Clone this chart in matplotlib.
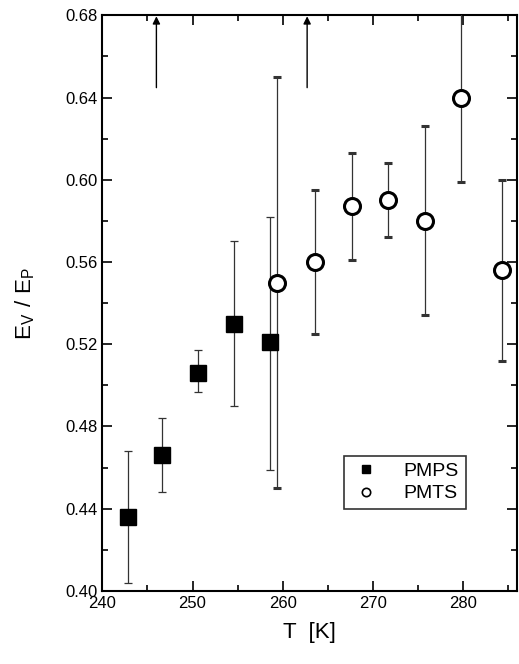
import numpy as np
import matplotlib
matplotlib.use('Agg')
import matplotlib.pyplot as plt
from matplotlib.ticker import MultipleLocator
from matplotlib.lines import Line2D

plt.rcParams['font.family'] = ['Liberation Sans', 'DejaVu Sans']

# PMPS (filled squares)
pmps_T = [242.9, 246.6, 250.6, 254.6, 258.6]
pmps_r = [0.436, 0.466, 0.506, 0.530, 0.521]
pmps_lo = [0.404, 0.448, 0.497, 0.490, 0.459]
pmps_hi = [0.468, 0.484, 0.517, 0.570, 0.582]

# PMTS (open circles)
pmts_T = [259.4, 263.6, 267.7, 271.7, 275.8, 279.7, 284.3]
pmts_r = [0.550, 0.560, 0.587, 0.590, 0.580, 0.640, 0.556]
pmts_lo = [0.450, 0.525, 0.561, 0.572, 0.534, 0.599, 0.512]
pmts_hi = [0.650, 0.595, 0.613, 0.608, 0.626, 0.700, 0.600]

# arrows at top
arrow_T = [246.0, 262.7]

fig = plt.figure(figsize=(5.19, 6.64), dpi=100)
ax = fig.add_axes([0.197, 0.110, 0.800, 0.867])

r = np.array(pmps_r)
ax.errorbar(pmps_T, pmps_r, yerr=[r - np.array(pmps_lo), np.array(pmps_hi) - r],
            fmt='s', color='black', ms=11.5, ecolor='#333333', elinewidth=0.9,
            capsize=3, capthick=0.9, zorder=3)
r = np.array(pmts_r)
ax.errorbar(pmts_T, pmts_r, yerr=[r - np.array(pmts_lo), np.array(pmts_hi) - r],
            fmt='o', color='black', mfc='white', mec='black', mew=2.2, ms=11.5,
            ecolor='#333333', elinewidth=0.9, capsize=3, capthick=0.9, zorder=3)

for t in arrow_T:
    ax.annotate('', xy=(t, 0.6795), xytext=(t, 0.6448),
                arrowprops=dict(arrowstyle='-|>', color='black', lw=1.0,
                                mutation_scale=11, shrinkA=0, shrinkB=0))

ax.set_xlim(240, 286)
ax.set_ylim(0.40, 0.68)
ax.xaxis.set_major_locator(MultipleLocator(10))
ax.xaxis.set_minor_locator(MultipleLocator(5))
ax.yaxis.set_major_locator(MultipleLocator(0.04))
ax.yaxis.set_minor_locator(MultipleLocator(0.02))
ax.yaxis.set_major_formatter(plt.FormatStrFormatter('%.2f'))
ax.tick_params(which='both', direction='in', top=True, right=True, labelsize=12, width=1.2)
ax.tick_params(which='major', length=7)
ax.tick_params(which='minor', length=4)
for s in ax.spines.values():
    s.set_linewidth(1.5)

ax.set_xlabel('T  [K]', fontsize=16, labelpad=8)
ax.set_ylabel(r'$\mathregular{E_V\ /\ E_P}$', fontsize=16, labelpad=20)

handles = [Line2D([], [], ls='none', marker='s', color='black', ms=6),
           Line2D([], [], ls='none', marker='o', mfc='white', mec='black', mew=1.2, ms=6)]
leg = ax.legend(handles, ['PMPS', 'PMTS'], loc='lower right', bbox_to_anchor=(0.899, 0.125),
                frameon=True, fancybox=False, edgecolor='black', fontsize=14,
                handletextpad=1.2, borderpad=0.35, handlelength=1.5, labelspacing=0.25)
leg.get_frame().set_linewidth(1.2)

fig.savefig('out.png', dpi=100)
